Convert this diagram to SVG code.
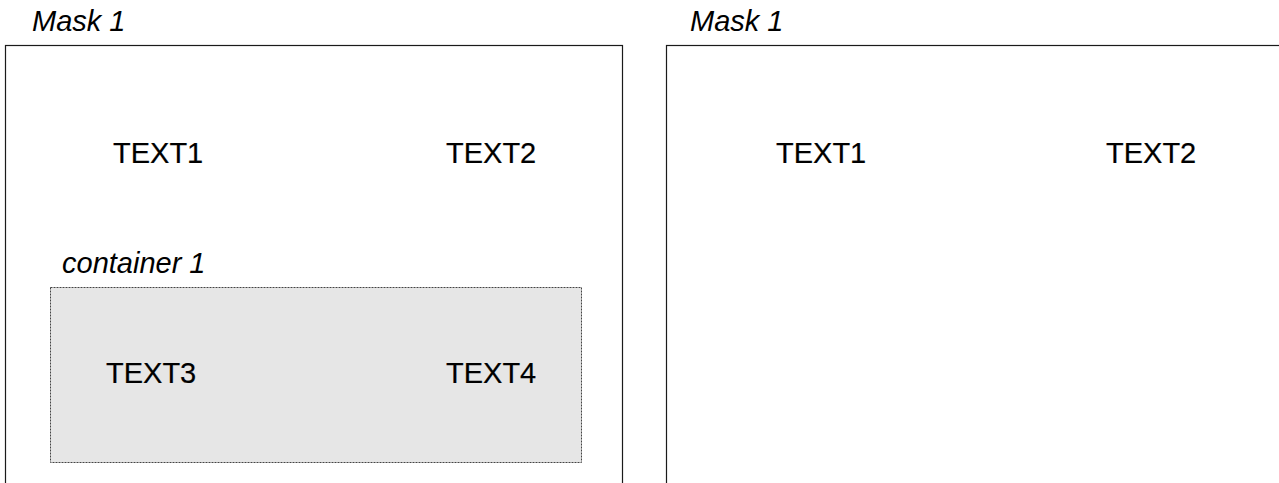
<svg xmlns="http://www.w3.org/2000/svg" width="1279" height="483" viewBox="0 0 1279 483">
  <style>
    .frame { fill: #ffffff; stroke: #1a1a1a; stroke-width: 1.2; }
    .box { fill: #e6e6e6; stroke: #444444; stroke-width: 1; stroke-dasharray: 2 1; }
    .title { font-family: "Liberation Sans", Arial, sans-serif; font-style: italic; font-size: 29px; fill: #000000; }
    .label { font-family: "Liberation Sans", Arial, sans-serif; font-size: 29px; fill: #000000; stroke: #000000; stroke-width: 0.2; }
  </style>
  <rect x="0" y="0" width="1279" height="483" fill="#ffffff"/>

  <!-- left mask -->
  <g id="mask-left">
    <text class="title" x="32" y="31">Mask 1</text>
    <rect class="frame" x="5.5" y="45.5" width="617" height="460"/>
    <text class="label" x="113" y="163">TEXT1</text>
    <text class="label" x="446" y="163">TEXT2</text>
  </g>

  <g id="container-1">
    <text class="title" x="62" y="273">container 1</text>
    <rect class="box" x="50.5" y="287.5" width="531" height="175"/>
    <text class="label" x="106" y="383">TEXT3</text>
    <text class="label" x="446" y="383">TEXT4</text>
  </g>

  <!-- right mask -->
  <g id="mask-right">
    <text class="title" x="690" y="31">Mask 1</text>
    <rect class="frame" x="666.5" y="45.5" width="640" height="460"/>
    <text class="label" x="776" y="163">TEXT1</text>
    <text class="label" x="1106" y="163">TEXT2</text>
  </g>

  <g id="connectors"/>
</svg>
